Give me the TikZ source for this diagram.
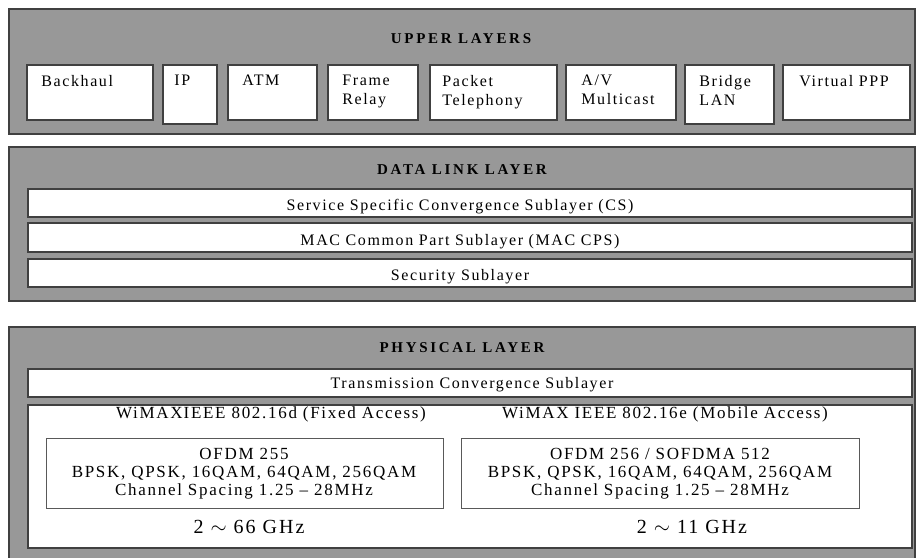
\documentclass[tikz,border=0pt]{standalone}
\usepackage{fontspec}
\setmainfont{Liberation Serif}
\newfontfamily\bodyf[LetterSpace=10]{Liberation Serif}
\newfontfamily\titf[LetterSpace=18]{Liberation Serif}
\usetikzlibrary{fit}
\definecolor{layergray}{RGB}{152,152,152}
\definecolor{edgegray}{RGB}{64,64,64}
\tikzset{
  layer/.style={draw=edgegray, line width=1.8pt, fill=layergray, inner sep=0pt},
  box/.style={draw=edgegray, line width=1.6pt, fill=white, inner sep=0pt},
  thinbox/.style={draw=black!65, line width=1pt, fill=white, inner sep=0pt},
  title/.style={font=\titf\bfseries\fontsize{15}{18}\selectfont, inner sep=0pt, anchor=base},
  txt/.style={font=\bodyf\fontsize{16}{19}\selectfont, inner sep=0pt},
  ctxt/.style={txt, anchor=base},
  ptxt/.style={font=\bodyf\fontsize{17}{20}\selectfont, inner sep=0pt, anchor=base},
  ltxt/.style={txt, anchor=north west, align=left},
  mtxt/.style={font=\bodyf\fontsize{17}{18}\selectfont, inner sep=0pt, anchor=north, align=center},
  ghz/.style={font=\bodyf\fontsize{20}{24}\selectfont, inner sep=0pt, anchor=base},
}
\begin{document}
\begin{tikzpicture}[x=1pt,y=-1pt]
\useasboundingbox (0,0) rectangle (917,557);
\clip (0,0) rectangle (917,557);

% ---------- Upper layers ----------
\node[layer, fit={(9,9) (915,134)}] (upper) {};
\node[title] (uppert) at (461,43) {UPPER LAYERS};
\node[box, fit={(27,65) (153,120)}] (bh) {};
\node[box, fit={(163,65) (217,124)}] (ip) {};
\node[box, fit={(228,65) (317,120)}] (atm) {};
\node[box, fit={(328,65) (418,120)}] (fr) {};
\node[box, fit={(430,65) (557,120)}] (pt) {};
\node[box, fit={(566,65) (676,120)}] (av) {};
\node[box, fit={(685,65) (774,124)}] (br) {};
\node[box, fit={(783,65) (910,120)}] (vp) {};
\node[ltxt] (bht) at ([shift={(15,11)}]bh.north west) {Backhaul};
\node[ltxt] (ipt) at ([shift={(12,11)}]ip.north west) {IP};
\node[ltxt] (atmt) at ([shift={(15,11)}]atm.north west) {ATM};
\node[ltxt] (frt) at ([shift={(15,11)}]fr.north west) {Frame\\Relay};
\node[ltxt] (ptt) at ([shift={(13,11)}]pt.north west) {Packet\\Telephony};
\node[ltxt] (avt) at ([shift={(16,11)}]av.north west) {A/V\\Multicast};
\node[ltxt] (brt) at ([shift={(15,11)}]br.north west) {Bridge\\LAN};
\node[ltxt] (vpt) at ([shift={(17,11)}]vp.north west) {Virtual PPP};

% ---------- Data link layer ----------
\node[layer, fit={(9,147) (915,301)}] (dll) {};
\node[title] (dllt) at (462,174) {DATA LINK LAYER};
\node[box, fit={(28,189) (912,217)}] (cs) {};
\node[box, fit={(28,223) (912,252)}] (cps) {};
\node[box, fit={(28,259) (912,287)}] (sec) {};
\node[ctxt] (cst) at (460,210) {Service Specific Convergence Sublayer (CS)};
\node[ctxt] (cpst) at (460,245) {MAC Common Part Sublayer (MAC CPS)};
\node[ctxt] (sect) at (460,280) {Security Sublayer};

% ---------- Physical layer ----------
\node[layer, fit={(9,327) (915,565)}] (phy) {};
\node[title] (phyt) at (462,352) {PHYSICAL LAYER};
\node[box, fit={(28,369) (912,397)}] (tc) {};
\node[ctxt] (tct) at (472,388) {Transmission Convergence Sublayer};
\node[box, fit={(28,405) (912,548)}] (wm) {};
\node[ptxt] (fixt) at (271,418) {WiMAX\kern1pt IEEE 802.16d (Fixed Access)};
\node[ptxt] (mobt) at (665,418) {WiMAX IEEE 802.16e (Mobile Access)};
\node[thinbox, fit={(46,438) (443,508)}] (fixb) {};
\node[thinbox, fit={(461,438) (859,508)}] (mobb) {};
\node[mtxt] (fixm) at (244,448) {OFDM 255\\BPSK, QPSK, 16QAM, 64QAM, 256QAM\\Channel Spacing 1.25 \textendash{} 28MHz};
\node[mtxt] (mobm) at (660,448) {OFDM 256 / SOFDMA 512\\BPSK, QPSK, 16QAM, 64QAM, 256QAM\\Channel Spacing 1.25 \textendash{} 28MHz};
\node[ghz] (fixg) at (249,533) {2 $\sim$ 66 GHz};
\node[ghz] (mobg) at (692,533) {2 $\sim$ 11 GHz};
\end{tikzpicture}
\end{document}
